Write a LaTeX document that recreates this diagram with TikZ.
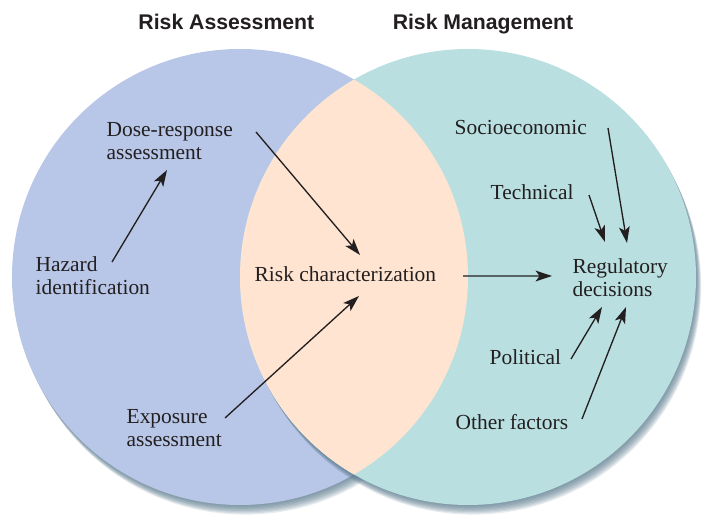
\documentclass[tikz,border=0pt]{standalone}
\usepackage{fontspec}
\setmainfont{Liberation Serif}
\newfontfamily\rsans{Liberation Sans}
\usetikzlibrary{arrows.meta,calc}
\definecolor{rblue}{HTML}{B8C7E7}
\definecolor{rteal}{HTML}{B9DFE0}
\definecolor{rpeach}{HTML}{FEE4D1}
\definecolor{rshade}{HTML}{56778A}
\definecolor{rink}{HTML}{231F20}
\tikzset{
  every picture/.style={line width=0.95pt},
  rlabel/.style={inner sep=0pt, text=rink, align=left,
                 font=\fontsize{15.24pt}{16.35pt}\selectfont},
  rtitle/.style={inner sep=0pt, text=rink,
                 font=\rsans\bfseries\fontsize{15.1pt}{18pt}\selectfont},
  rarr/.style={draw=rink, -{Stealth[length=4.1mm,width=2.7mm,inset=1mm]}},
  rshadow/.style={fill=rshade, opacity=0.15},
}

\begin{document}
\begin{tikzpicture}
\useasboundingbox (0,0) rectangle (17.575,13);
\coordinate (lc) at (6.0,6.075); \coordinate (rc) at (11.7,6.075);
% circles, each with a soft drop shadow
\foreach \s in {1,...,8} {\fill[rshadow] ($(lc)+(0.016*\s,-0.03*\s)$) circle (5.7);}
\fill[rblue] (lc) circle (5.7);
\foreach \s in {1,...,8} {\fill[rshadow] ($(rc)+(0.016*\s,-0.03*\s)$) circle (5.7);}
\fill[rteal] (rc) circle (5.7);
\begin{scope}
\clip (lc) circle (5.7);
\fill[rpeach] (rc) circle (5.7);
\end{scope}
% headings
\node[rtitle, anchor=base] (ra) at (5.66,12.25) {Risk Assessment};
\node[rtitle, anchor=base] (rm) at (12.075,12.25) {Risk Management};
% labels
\node[rlabel, anchor=north west] (dose) at (2.65,9.9625) {Dose-response\\assessment};
\node[rlabel, anchor=north west] (hazard) at (0.875,6.6125) {Hazard\\identification};
\node[rlabel, anchor=north west] (expo) at (3.15,2.7875) {Exposure\\assessment};
\node[rlabel, anchor=base west] (riskc) at (6.35,5.95) {Risk characterization};
\node[rlabel, anchor=base west] (socio) at (11.35,9.625) {Socioeconomic};
\node[rlabel, anchor=base west] (tech) at (12.25,8.0) {Technical};
\node[rlabel, anchor=north west] (reg) at (14.3,6.5625) {Regulatory\\decisions};
\node[rlabel, anchor=base west] (pol) at (12.225,3.875) {Political};
\node[rlabel, anchor=base west] (other) at (11.375,2.25) {Other factors};
% arrows
\draw[rarr] ([shift={(1.925,-0.1625)}]hazard.north west) -- ([shift={(1.525,-1.2125)}]dose.north west);
\draw[rarr] ([shift={(3.75,-0.2625)}]dose.north west) -- ([shift={(2.65,0.675)}]riskc.base west);
\draw[rarr] ([shift={(2.475,-0.2375)}]expo.north west) -- ([shift={(2.625,-0.35)}]riskc.base west);
\draw[rarr] ([shift={(5.225,0.15)}]riskc.base west) -- ([shift={(-0.5,-0.4625)}]reg.north west);
\draw[rarr] ([shift={(3.85,0.175)}]socio.base west) -- ([shift={(1.375,0.3625)}]reg.north west);
\draw[rarr] ([shift={(2.475,0.125)}]tech.base west) -- ([shift={(0.825,0.3875)}]reg.north west);
\draw[rarr] ([shift={(2.05,0.15)}]pol.base west) -- ([shift={(0.75,-1.2375)}]reg.north west);
\draw[rarr] ([shift={(3.175,0.275)}]other.base west) -- ([shift={(1.35,-1.2375)}]reg.north west);
\end{tikzpicture}
\end{document}
